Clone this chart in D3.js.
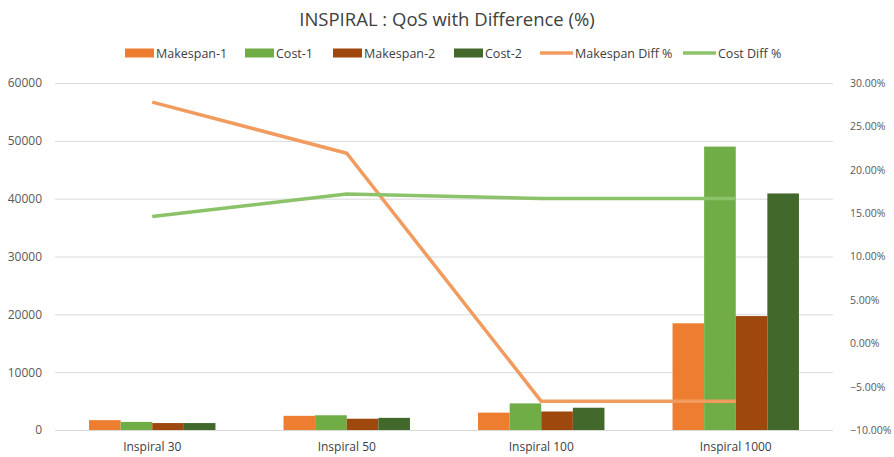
<!DOCTYPE html>
<html>
<head>
<meta charset="utf-8">
<script src="https://cdn.jsdelivr.net/npm/d3@7"></script>
<style>
  html, body { margin: 0; padding: 0; background: #fff; }
  svg { display: block; font-family: "Open Sans", "Lato", sans-serif; }
</style>
</head>
<body>
<svg id="chart" width="894" height="457"></svg>
<script>
// Categories and series
const categories = ["Inspiral 30", "Inspiral 50", "Inspiral 100", "Inspiral 1000"];
const barSeries = ["Makespan-1", "Cost-1", "Makespan-2", "Cost-2"];
const makespan1 = [1700, 2450, 3000, 18450];
const cost1 = [1400, 2550, 4600, 49000];
const makespan2 = [1200, 1950, 3200, 19700];
const cost2 = [1200, 2100, 3850, 40900];
const makespanDiff = [0.278, 0.219, -0.067, -0.067];
const costDiff = [0.146, 0.172, 0.167, 0.167];
const leftTicks = [0, 10000, 20000, 30000, 40000, 50000, 60000];
const rightTicks = [-0.10, -0.05, 0, 0.05, 0.10, 0.15, 0.20, 0.25, 0.30];

const barColors = ["#ED7D31", "#70AD47", "#9E480E", "#43682B"];
const lineColors = ["#F19B5F", "#8BC36A"];
const barValues = [makespan1, cost1, makespan2, cost2];

const svg = d3.select("#chart");
const plotLeft = 55, plotRight = 833, plotTop = 83, plotBottom = 430;

const x0 = d3.scaleBand().domain(categories).range([plotLeft, plotRight]).padding(0);
const x1 = d3.scaleBand().domain(barSeries).range([0, x0.bandwidth()])
  .paddingInner(0).paddingOuter(1.077);
const yL = d3.scaleLinear().domain([0, 60000]).range([plotBottom, plotTop]);
const yR = d3.scaleLinear().domain([-0.10, 0.30]).range([plotBottom, plotTop]);

// Title
svg.append("text")
  .attr("x", 447).attr("y", 26)
  .attr("text-anchor", "middle")
  .attr("font-size", 18.5)
  .attr("fill", "#404040")
  .text("INSPIRAL : QoS with Difference (%)");

// Gridlines
svg.append("g")
  .selectAll("line")
  .data(leftTicks)
  .join("line")
  .attr("x1", plotLeft).attr("x2", plotRight)
  .attr("y1", d => yL(d) + 0.5).attr("y2", d => yL(d) + 0.5)
  .attr("stroke", "#D9D9D9").attr("stroke-width", 1);

// Left axis
const axisL = svg.append("g")
  .attr("transform", `translate(${plotLeft - 13},0)`)
  .call(d3.axisLeft(yL).tickValues(leftTicks).tickSize(0).tickPadding(0).tickFormat(d3.format("d")));
axisL.select(".domain").remove();
axisL.selectAll("text").attr("font-size", 12).attr("fill", "#595959")
  .attr("font-family", "'Open Sans', sans-serif");

// Right axis
const axisR = svg.append("g")
  .attr("transform", `translate(${plotRight + 17},0)`)
  .call(d3.axisRight(yR).tickValues(rightTicks).tickSize(0).tickPadding(0).tickFormat(d3.format(".2%")));
axisR.select(".domain").remove();
axisR.selectAll("text").attr("font-size", 10.5).attr("fill", "#595959")
  .attr("font-family", "'Open Sans', sans-serif");

// Category axis
const axisB = svg.append("g")
  .attr("transform", `translate(0,${plotBottom})`)
  .call(d3.axisBottom(x0).tickSize(0).tickPadding(12));
axisB.select(".domain").remove();
axisB.selectAll("text").attr("font-size", 12).attr("fill", "#404040")
  .attr("font-family", "'Open Sans', sans-serif");

// Bars
const groups = svg.append("g")
  .selectAll("g")
  .data(categories)
  .join("g")
  .attr("transform", d => `translate(${x0(d)},0)`);

groups.selectAll("rect")
  .data((c, i) => barSeries.map((s, j) => ({ s, j, v: barValues[j][i] })))
  .join("rect")
  .attr("x", d => x1(d.s))
  .attr("width", x1.bandwidth())
  .attr("y", d => yL(d.v))
  .attr("height", d => yL(0) - yL(d.v))
  .attr("fill", d => barColors[d.j]);

// Difference lines on the secondary axis
const line = d3.line()
  .x((d, i) => x0(categories[i]) + x0.bandwidth() / 2)
  .y(d => yR(d));

[makespanDiff, costDiff].forEach((vals, k) => {
  svg.append("path")
    .datum(vals)
    .attr("d", line)
    .attr("fill", "none")
    .attr("stroke", lineColors[k])
    .attr("stroke-width", 3.5)
    .attr("stroke-linejoin", "round");
});

// Legend
const legendItems = [
  { name: "Makespan-1", type: "rect", color: barColors[0], x: 125 },
  { name: "Cost-1", type: "rect", color: barColors[1], x: 245 },
  { name: "Makespan-2", type: "rect", color: barColors[2], x: 333 },
  { name: "Cost-2", type: "rect", color: barColors[3], x: 454 },
  { name: "Makespan Diff %", type: "line", color: lineColors[0], x: 540 },
  { name: "Cost Diff %", type: "line", color: lineColors[1], x: 683 }
];
const ly = 53;
const leg = svg.append("g").selectAll("g").data(legendItems).join("g");
leg.filter(d => d.type === "rect").append("rect")
  .attr("x", d => d.x).attr("y", ly - 4.5).attr("width", 29).attr("height", 9)
  .attr("fill", d => d.color);
leg.filter(d => d.type === "line").append("line")
  .attr("x1", d => d.x).attr("x2", d => d.x + 33)
  .attr("y1", ly).attr("y2", ly)
  .attr("stroke", d => d.color).attr("stroke-width", 3.5);
leg.append("text")
  .attr("x", d => d.x + (d.type === "rect" ? 31 : 35))
  .attr("y", ly + 4.5)
  .attr("font-size", 12.5)
  .attr("fill", "#404040")
  .text(d => d.name);
</script>
</body>
</html>
